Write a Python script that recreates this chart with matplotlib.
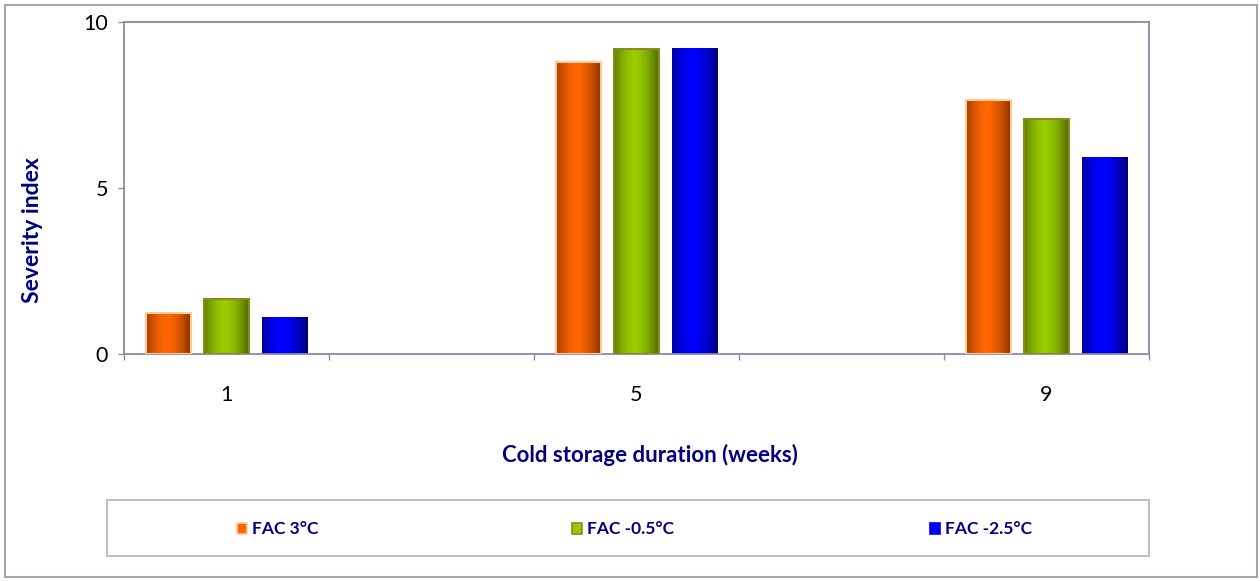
import numpy as np
import matplotlib
matplotlib.use("Agg")
import matplotlib.pyplot as plt
from matplotlib.patches import Rectangle
from matplotlib.colors import to_rgb

# ---- data ----
weeks = [1, 5, 9]
series_names = ["FAC 3°C", "FAC -0.5°C", "FAC -2.5°C"]
fac_3 = [1.22, 8.80, 7.65]
fac_m05 = [1.66, 9.19, 7.07]
fac_m25 = [1.10, 9.21, 5.92]
y_ticks = [0, 5, 10]
x_tick_labels = ["1", "5", "9"]

series_values = [fac_3, fac_m05, fac_m25]
bright = ["#FF6600", "#99CC00", "#0000FF"]
dark = ["#7A2E00", "#4A6000", "#000078"]
edges = ["#FFCC99", "#8C8C1E", None]

plt.rcParams['font.family'] = ['Lato', 'DejaVu Sans']
NAVY = "#000080"
AXC = "#8A8AAA"

fig = plt.figure(figsize=(12.6, 5.81), dpi=100)
W, H = 1260, 581

def fx(px):
    return px / W

def fy(py):
    return 1 - py / H

ax = fig.add_axes([fx(124), fy(354), fx(1149) - fx(124), fy(22) - fy(354)])
ax.set_xlim(0, 10)
ax.set_ylim(0, 10)

width = 0.44
offsets = [-0.57, 0.0, 0.57]

t = np.linspace(0, 1, 200)
prof = 1 - np.clip(np.abs(t - 0.45) / 0.55, 0, 1) ** 1.7

for vals, off, bc, dc, ec in zip(series_values, offsets, bright, dark, edges):
    xs = [w + off for w in weeks]
    bars = ax.bar(xs, vals, width=width, facecolor='none',
                  edgecolor=ec if ec else 'none', linewidth=1.5 if ec else 0,
                  zorder=3)
    b = np.array(to_rgb(bc)); d = np.array(to_rgb(dc))
    img = (d[None, :] + (b - d)[None, :] * prof[:, None])[None, :, :]
    for r in bars:
        x0, y0 = r.get_x(), r.get_y()
        ax.imshow(img, extent=[x0, x0 + r.get_width(), y0, y0 + r.get_height()],
                  aspect='auto', interpolation='bilinear', zorder=2)
ax.set_xlim(0, 10)
ax.set_ylim(0, 10)

for s in ax.spines.values():
    s.set_color(AXC)
    s.set_linewidth(1.3)

ax.set_yticks(y_ticks)
ax.set_yticklabels([str(v) for v in y_ticks])
ax.tick_params(axis='y', direction='out', length=4.5, color=AXC, width=1,
               labelsize=15.5, pad=7, labelcolor='black')
ax.set_xticks([0, 2, 4, 6, 8, 10])
ax.set_xticklabels([])
ax.tick_params(axis='x', which='major', direction='out', length=4.5, color=AXC, width=1)
ax.set_xticks(weeks, minor=True)
ax.set_xticklabels(x_tick_labels, minor=True)
ax.tick_params(axis='x', which='minor', length=0, labelsize=15.5, pad=22, labelcolor='black')

fig.text(fx(33), fy(230), "Severity index", rotation=90, ha='center', va='center',
         fontsize=16.5, fontweight='bold', color=NAVY)
fig.text(fx(650), fy(455), "Cold storage duration (weeks)", ha='center', va='center',
         fontsize=16, fontweight='bold', color=NAVY)

# outer border
fig.patches.append(Rectangle((fx(5), fy(577)), fx(1257) - fx(5), fy(5) - fy(577),
                             transform=fig.transFigure, fill=False,
                             edgecolor="#A6A6A6", linewidth=1.5))
# legend box
fig.patches.append(Rectangle((fx(107), fy(556)), fx(1149) - fx(107), fy(500) - fy(556),
                             transform=fig.transFigure, fill=False,
                             edgecolor="#BFBFBF", linewidth=1.5))
leg_marker_x = [237, 572, 930]
for name, mx, bc, ec in zip(series_names, leg_marker_x, bright, edges):
    fig.patches.append(Rectangle((fx(mx), fy(534)), fx(10), 11 / H,
                                 transform=fig.transFigure, facecolor=bc,
                                 edgecolor=ec if ec else bc, linewidth=1.2))
    fig.text(fx(mx + 15), fy(529), name, ha='left', va='center', fontsize=12.5,
             fontweight='bold', color=NAVY)

fig.savefig("out.png", dpi=100)
